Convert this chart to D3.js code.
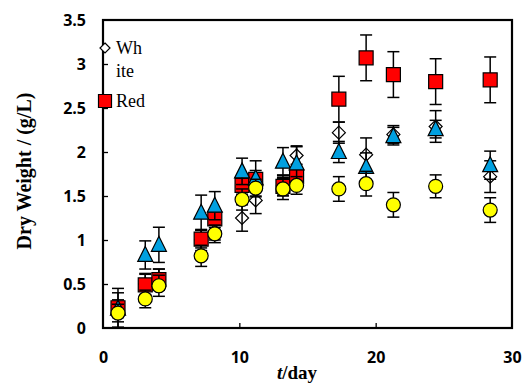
<!DOCTYPE html>
<html>
<head>
<meta charset="utf-8">
<script src="https://cdn.jsdelivr.net/npm/d3@7"></script>
<style>
body { margin: 0; background: #fff; overflow: hidden; }
svg { display: block; }
</style>
</head>
<body>
<div class="canvas"></div>
<script>
var w = 531;
var h = 385;

// sampling days
var days = [1.1, 3.1, 4.1, 7.2, 8.2, 10.2, 11.2, 13.2, 14.2, 17.3, 19.3, 21.3, 24.4, 28.4];

var whiteVals = [0.2, 0.5, 0.55, 1.0, 1.1, 1.25, 1.45, 1.62, 1.96, 2.22, 1.97, 2.2, 2.29, 1.72];
var whiteErr  = [0.2, 0.12, 0.12, 0.12, 0.1, 0.15, 0.15, 0.12, 0.1, 0.12, 0.19, 0.1, 0.18, 0.18];

var redVals = [0.23, 0.49, 0.55, 1.01, 1.24, 1.62, 1.69, 1.61, 1.72, 2.6, 3.07, 2.88, 2.8, 2.82];
var redErr  = [0.22, 0.12, 0.12, 0.1, 0.1, 0.1, 0.1, 0.1, 0.1, 0.26, 0.26, 0.26, 0.26, 0.26];

var blueVals = [0.22, 0.83, 0.945, 1.31, 1.39, 1.78, 1.7, 1.89, 1.87, 2.0, 1.83, 2.18, 2.26, 1.85];
var blueErr  = [0.1, 0.16, 0.2, 0.2, 0.16, 0.15, 0.2, 0.16, 0.2, 0.12, 0.16, 0.1, 0.1, 0.16];

var yellowVals = [0.17, 0.33, 0.48, 0.82, 1.07, 1.46, 1.59, 1.58, 1.62, 1.58, 1.64, 1.4, 1.61, 1.34];
var yellowErr  = [0.1, 0.1, 0.12, 0.12, 0.1, 0.12, 0.1, 0.12, 0.1, 0.14, 0.14, 0.14, 0.13, 0.14];

var xTicks = [0, 10, 20, 30];
var yTicks = [0, 0.5, 1, 1.5, 2, 2.5, 3, 3.5];

var legendItems = [
    {lines: ["Wh", "ite"], symbol: "diamond"},
    {lines: ["Red"], symbol: "square"}
];

var pLeft = 103, pRight = 512, pTop = 20, pBottom = 328;

var xScale = d3.scaleLinear().domain([0, 30]).range([pLeft, pRight]);
var yScale = d3.scaleLinear().domain([0, 3.5]).range([pBottom, pTop]);

var svg = d3.select(".canvas").append("svg")
    .attr("width", w)
    .attr("height", h);

// axes with inward ticks
var xAxis = d3.axisBottom(xScale).tickValues(xTicks).tickFormat(String)
    .tickSizeInner(-5).tickSizeOuter(0).tickPadding(24);
var yAxis = d3.axisLeft(yScale).tickValues(yTicks).tickFormat(String)
    .tickSizeInner(-5).tickSizeOuter(0).tickPadding(17);

var gx = svg.append("g").attr("transform", "translate(0," + pBottom + ")").call(xAxis);
var gy = svg.append("g").attr("transform", "translate(" + pLeft + ",0)").call(yAxis);

[gx, gy].forEach(function (g) {
    g.select(".domain").remove();
    g.selectAll(".tick line").attr("stroke", "#000").attr("stroke-width", 1.3);
    g.selectAll(".tick text")
        .attr("fill", "#000")
        .style("font-family", "'Open Sans', sans-serif")
        .style("font-weight", "bold")
        .style("font-size", "16px");
});
gx.selectAll(".tick line").filter(function (d) { return d == 0 || d == 30; }).remove();
gy.selectAll(".tick line").filter(function (d) { return d == 0 || d == 3.5; }).remove();

// plot frame
svg.append("rect")
    .attr("x", pLeft).attr("y", pTop)
    .attr("width", pRight - pLeft).attr("height", pBottom - pTop)
    .attr("fill", "none").attr("stroke", "#000").attr("stroke-width", 2.2);

// axis titles
svg.append("text")
    .attr("x", 297).attr("y", 379)
    .attr("text-anchor", "middle")
    .style("font-family", "'Liberation Serif', serif")
    .style("font-weight", "bold")
    .style("font-size", "19px")
    .html("<tspan font-style='italic'>t</tspan>/day");

svg.append("text")
    .attr("transform", "translate(31," + 171 + ") rotate(-90)")
    .attr("text-anchor", "middle")
    .style("font-family", "'Liberation Serif', serif")
    .style("font-weight", "bold")
    .style("font-size", "20px")
    .text("Dry Weight / (g/L)");

var series = [
    {vals: whiteVals, err: whiteErr, symbol: "diamond", fill: "none", size: 13},
    {vals: redVals, err: redErr, symbol: "square", fill: "#ff0000", size: 14},
    {vals: blueVals, err: blueErr, symbol: "triangle", fill: "#00a0e0", size: 15},
    {vals: yellowVals, err: yellowErr, symbol: "circle", fill: "#ffff00", size: 14}
];

function symbolPath(type, s) {
    var r = s / 2;
    if (type == "diamond") return "M0," + (-r) + "L" + r + ",0L0," + r + "L" + (-r) + ",0Z";
    if (type == "square") return "M" + (-r) + "," + (-r) + "h" + s + "v" + s + "h" + (-s) + "Z";
    if (type == "triangle") return "M0," + (-r - 1) + "L" + (r) + "," + (r - 1) + "L" + (-r) + "," + (r - 1) + "Z";
    return d3.arc()({innerRadius: 0, outerRadius: r, startAngle: 0, endAngle: 2 * Math.PI});
}

var cap = 6;
series.forEach(function (s) {
    var g = svg.append("g");
    for (var i = 0; i < days.length; i++) {
        var cx = xScale(days[i]);
        var y1 = yScale(s.vals[i] + s.err[i]);
        var y2 = yScale(s.vals[i] - s.err[i]);
        g.append("line").attr("x1", cx).attr("x2", cx).attr("y1", y1).attr("y2", y2)
            .attr("stroke", "#000").attr("stroke-width", 1.5);
        g.append("line").attr("x1", cx - cap).attr("x2", cx + cap).attr("y1", y1).attr("y2", y1)
            .attr("stroke", "#000").attr("stroke-width", 1.5);
        g.append("line").attr("x1", cx - cap).attr("x2", cx + cap).attr("y1", y2).attr("y2", y2)
            .attr("stroke", "#000").attr("stroke-width", 1.5);
    }
    for (var i = 0; i < days.length; i++) {
        g.append("path")
            .attr("d", symbolPath(s.symbol, s.size))
            .attr("transform", "translate(" + xScale(days[i]) + "," + yScale(s.vals[i]) + ")")
            .attr("fill", s.fill)
            .attr("stroke", "#000")
            .attr("stroke-width", 1.2);
    }
});

// legend (overlaps the left axis, as in the original)
var legend = svg.append("g");
var ly = 48;
legendItems.forEach(function (item) {
    var sz = item.symbol == "diamond" ? 10 : 13;
    legend.append("path")
        .attr("d", symbolPath(item.symbol, sz))
        .attr("transform", "translate(105," + ly + ")")
        .attr("fill", item.symbol == "diamond" ? "#fff" : "#ff0000")
        .attr("stroke", "#000").attr("stroke-width", 1.2);
    item.lines.forEach(function (t, k) {
        legend.append("text")
            .attr("x", 116).attr("y", ly + 6 + k * 23)
            .style("font-family", "'Liberation Serif', serif")
            .style("font-size", "18px")
            .text(t);
    });
    ly += 53;
});
</script>
</body>
</html>
